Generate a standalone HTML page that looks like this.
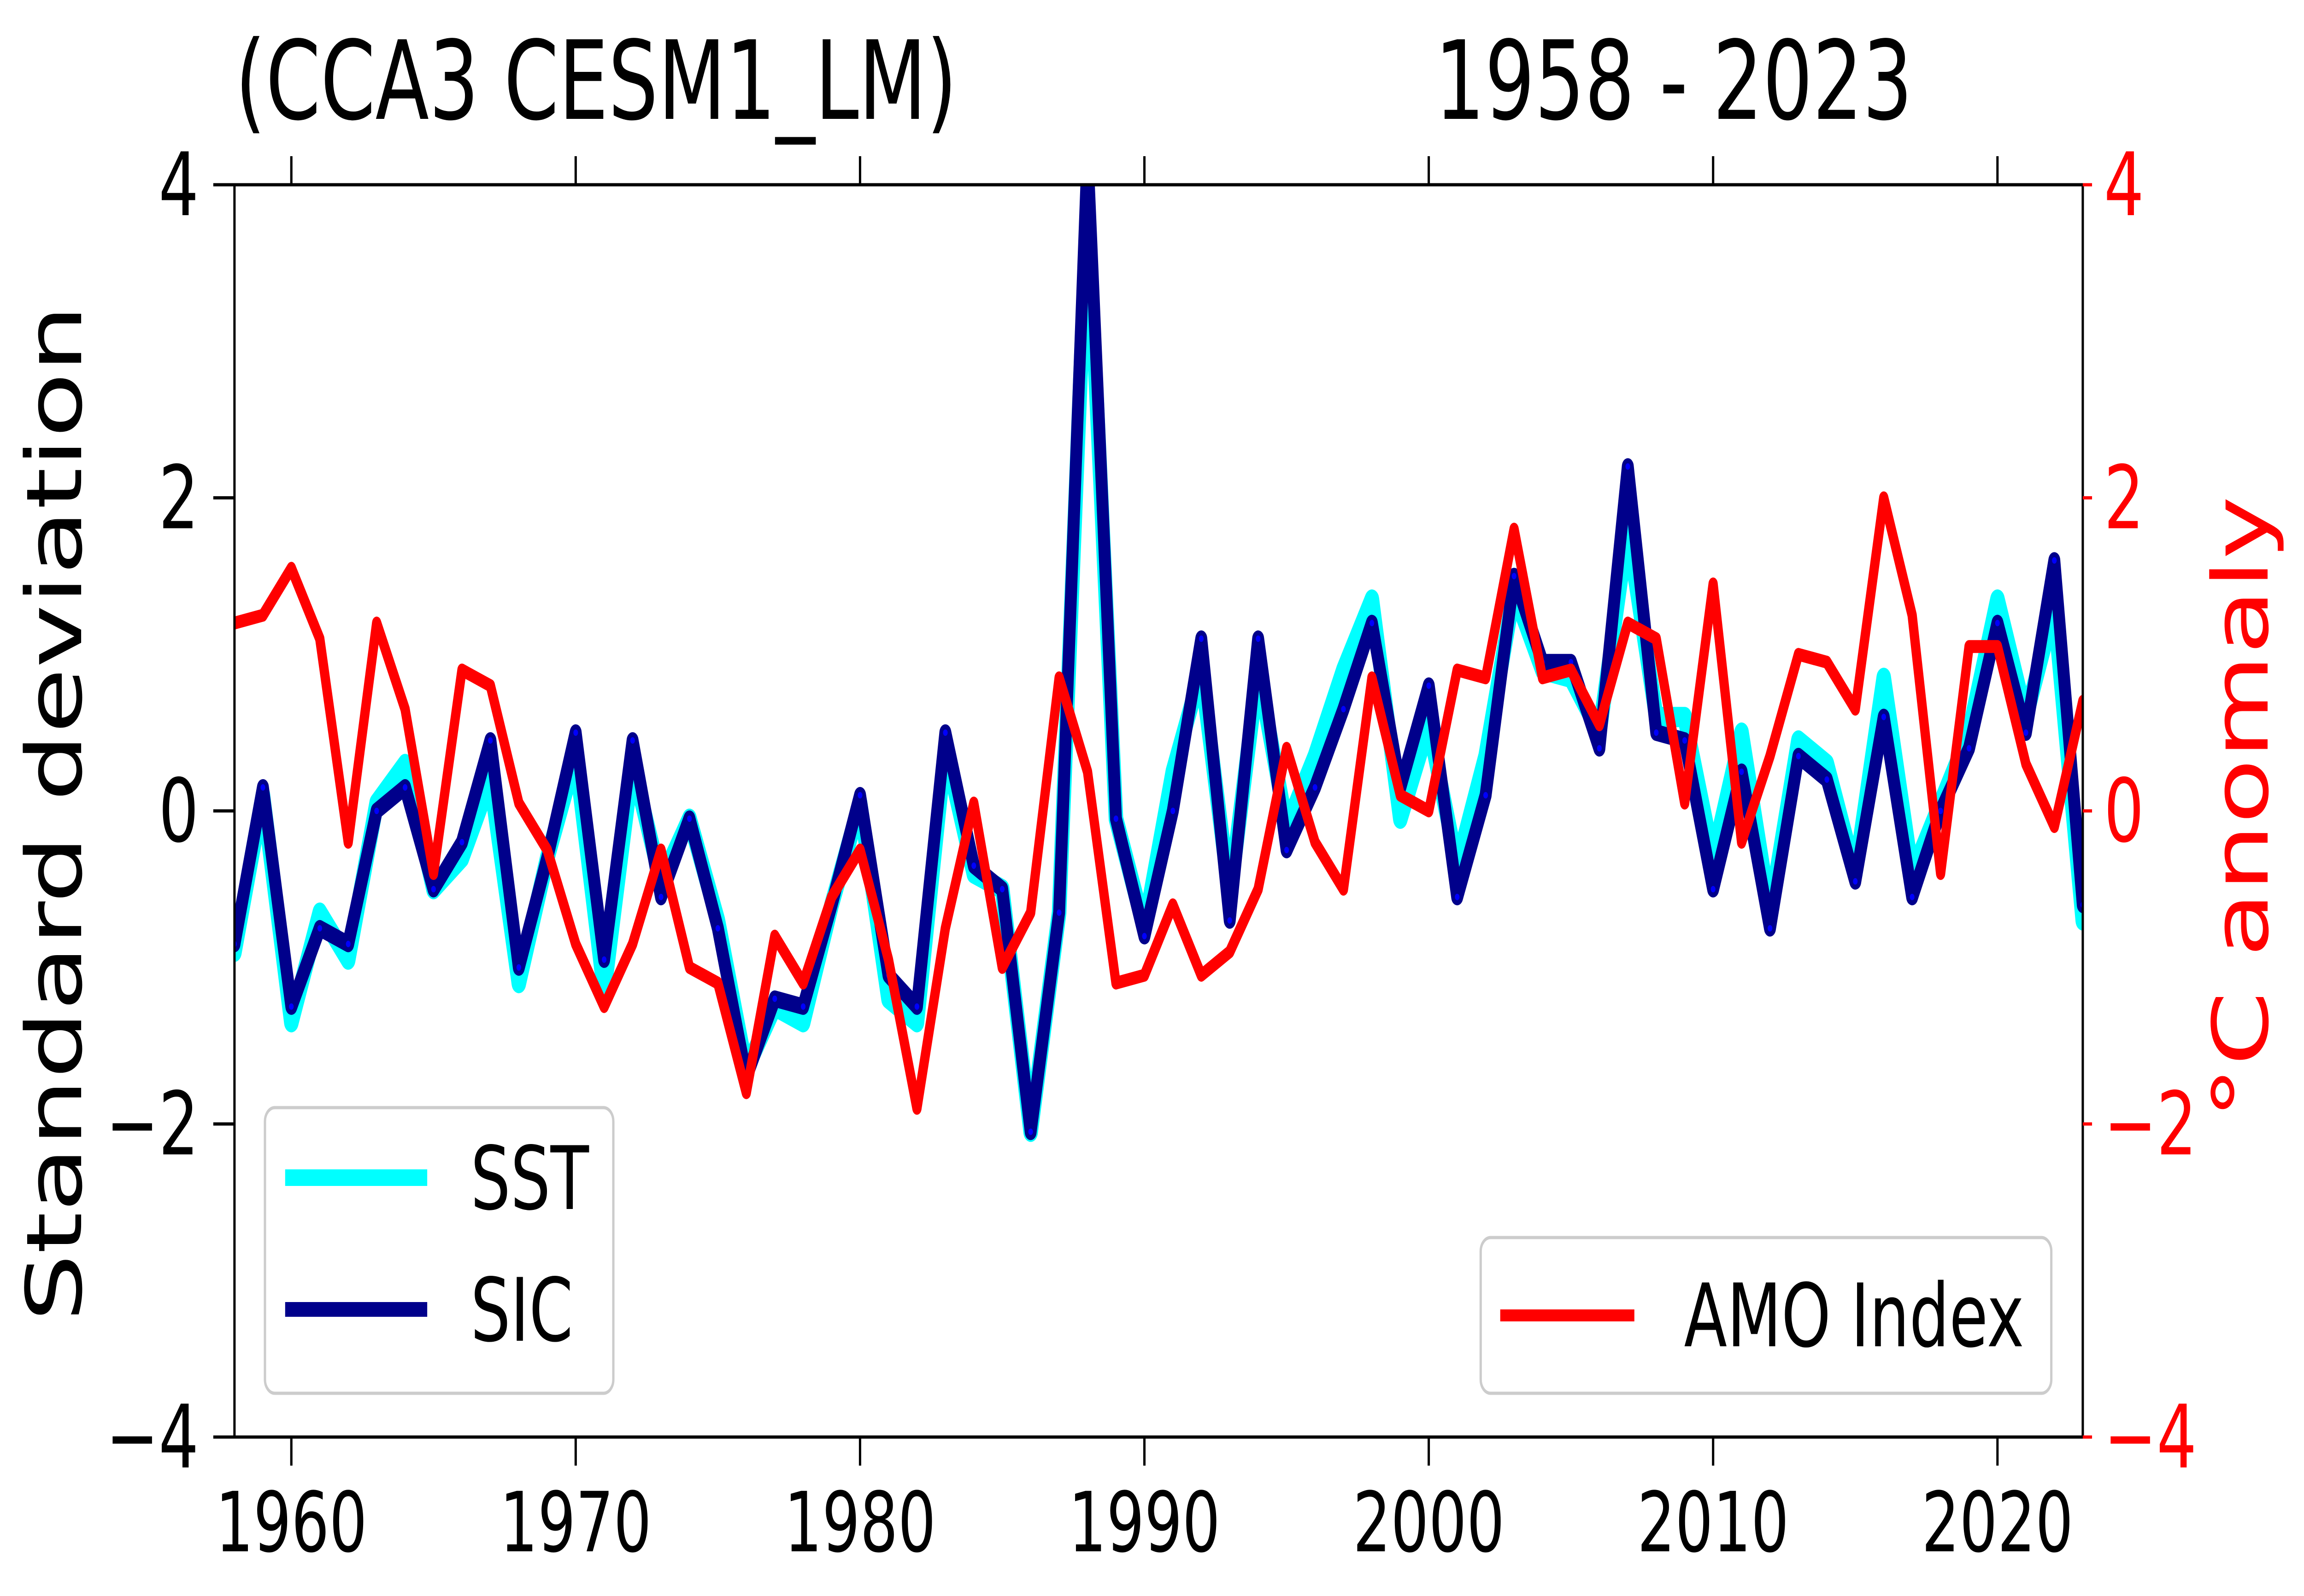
<!DOCTYPE html>
<html><head><meta charset="utf-8">
<style>
html,body{margin:0;padding:0;background:#fff;overflow:hidden;width:100%;height:100%;}
svg{display:block;width:100vw;height:100vh;font-family:"DejaVu Sans","Liberation Sans",sans-serif;}
</style></head>
<body>
<svg id="chart" viewBox="0 0 6957 3464" preserveAspectRatio="none" xmlns="http://www.w3.org/2000/svg">
<rect width="6957" height="3464" fill="#fff"/>
<defs><clipPath id="plotclip"><rect x="708" y="401" width="5581" height="2718"/></clipPath></defs>
<text x="710" y="258" font-size="237" fill="#000">(CCA3 CESM1_LM)</text>
<text x="5775" y="258" font-size="237" fill="#000" text-anchor="end">1958 - 2023</text>
<text transform="translate(245,1765) rotate(-90)" font-size="232" text-anchor="middle" fill="#000">Standard deviation</text>
<text transform="translate(6847,1753) rotate(-90)" font-size="232" text-anchor="middle" fill="#ff0000">°C anomaly</text>
<g id="series" clip-path="url(#plotclip)"></g>
<g id="axes"></g>
<g id="legends"></g>
</svg>
<script>
const years = [];
for (let y = 1958; y <= 2023; y++) years.push(y);
const sicValues = [-0.85,0.15,-1.25,-0.75,-0.85,0.0,0.15,-0.5,-0.2,0.45,-1.0,-0.3,0.5,-0.95,0.45,-0.55,-0.05,-0.75,-1.7,-1.2,-1.25,-0.6,0.1,-1.05,-1.25,0.5,-0.35,-0.5,-2.05,-0.65,4.2,-0.05,-0.8,0.0,1.1,-0.7,1.1,-0.25,0.15,0.65,1.2,0.15,0.8,-0.55,0.1,1.5,0.95,0.95,0.4,2.2,0.5,0.45,-0.5,0.25,-0.75,0.35,0.2,-0.45,0.6,-0.55,0.0,0.4,1.2,0.5,1.6,-0.6];
const sstValues = [-0.9,0.1,-1.35,-0.65,-0.95,0.05,0.3,-0.5,-0.3,0.2,-1.1,-0.3,0.35,-1.15,0.3,-0.45,-0.05,-0.7,-1.65,-1.25,-1.35,-0.6,0.05,-1.2,-1.35,0.4,-0.4,-0.5,-2.05,-0.65,3.9,-0.05,-0.75,0.25,0.9,-0.55,0.9,-0.1,0.35,0.9,1.35,-0.05,0.55,-0.35,0.35,1.4,0.9,0.85,0.5,1.8,0.6,0.6,-0.3,0.5,-0.65,0.45,0.3,-0.4,0.85,-0.4,0.05,0.5,1.35,0.6,1.3,-0.7];
const amoValues = [1.2,1.25,1.55,1.1,-0.2,1.2,0.65,-0.4,0.9,0.8,0.05,-0.25,-0.85,-1.25,-0.85,-0.25,-1.0,-1.1,-1.8,-0.8,-1.1,-0.55,-0.25,-0.95,-1.9,-0.75,0.05,-1.0,-0.65,0.85,0.25,-1.1,-1.05,-0.6,-1.05,-0.9,-0.5,0.4,-0.2,-0.5,0.85,0.1,0.0,0.9,0.85,1.8,0.85,0.9,0.55,1.2,1.1,0.05,1.45,-0.2,0.35,1.0,0.95,0.65,2.0,1.25,-0.4,1.05,1.05,0.3,-0.1,0.7];
const xTicks = [1960,1970,1980,1990,2000,2010,2020];
const xTickLabels = ["1960","1970","1980","1990","2000","2010","2020"];
const yTicks = [-4,-2,0,2,4];
const yTickLabels = ["\u22124","\u22122","0","2","4"];

const L=708,R=6289,T=401,B=3119;
const xs = v => L + (v-1958)/(2023-1958)*(R-L);
const ys = v => B - (v+4)/8*(B-T);
const NS="http://www.w3.org/2000/svg";
function mk(tag, attrs, parent){const e=document.createElementNS(NS,tag);for(const k in attrs)e.setAttribute(k,attrs[k]);parent.appendChild(e);return e;}
const series=document.getElementById('series'), axes=document.getElementById('axes'), leg=document.getElementById('legends');
function pts(vals){return vals.map((v,i)=>xs(years[i]).toFixed(1)+','+ys(v).toFixed(1)).join(' ');}

let p=mk('polyline',{points:pts(sstValues),fill:'none',stroke:'#00ffff','stroke-width':44,'stroke-linejoin':'round','stroke-linecap':'round'},series);


p=mk('polyline',{points:pts(sicValues),fill:'none',stroke:'#00008b','stroke-width':36,'stroke-linejoin':'round','stroke-linecap':'round'},series);


sicValues.forEach((v,i)=>{
  const c=mk('circle',{cx:xs(years[i]),cy:ys(v),r:7,fill:'#0000ff'},series);
  
  
});
p=mk('polyline',{points:pts(amoValues),fill:'none',stroke:'#ff0000','stroke-width':28,'stroke-linejoin':'round','stroke-linecap':'round'},series);



let s=mk('rect',{x:L,y:T,width:R-L,height:B-T,fill:'none',stroke:'#000','stroke-width':7},axes);



xTicks.forEach((t,i)=>{
  const x=xs(t);
  let a=mk('line',{x1:x,y1:T,x2:x,y2:T-62,stroke:'#000','stroke-width':7},axes);
  
  
  a=mk('line',{x1:x,y1:B,x2:x,y2:B+62,stroke:'#000','stroke-width':7},axes);
  
  
  const tx=mk('text',{x:x,y:3367,'font-size':180,'text-anchor':'middle',fill:'#000'},axes);
  tx.textContent=xTickLabels[i];
  
  
});
yTicks.forEach((t,i)=>{
  const y=ys(t);
  let a=mk('line',{x1:L-64,y1:y,x2:L,y2:y,stroke:'#000','stroke-width':7},axes);
  
  
  let tx=mk('text',{x:600,y:y+66,'font-size':190,'text-anchor':'end',fill:'#000'},axes);
  tx.textContent=yTickLabels[i];
  
  
  a=mk('line',{x1:R,y1:y,x2:R+28,y2:y,stroke:'#ff0000','stroke-width':7},axes);
  
  
  tx=mk('text',{x:6353,y:y+66,'font-size':190,'text-anchor':'start',fill:'#ff0000'},axes);
  tx.textContent=yTickLabels[i];
  
  
});

let b=mk('rect',{x:800,y:2404,width:1052,height:620,rx:30,fill:'#fff','fill-opacity':0.8,stroke:'#cccccc','stroke-width':7},leg);


let l=mk('line',{x1:861,y1:2556,x2:1290,y2:2556,stroke:'#00ffff','stroke-width':36},leg);


let t=mk('text',{x:1421,y:2624,'font-size':190,fill:'#000'},leg);
t.textContent='SST';


l=mk('line',{x1:861,y1:2842,x2:1290,y2:2842,stroke:'#00008b','stroke-width':32},leg);


t=mk('text',{x:1421,y:2910,'font-size':190,fill:'#000'},leg);
t.textContent='SIC';



b=mk('rect',{x:4471,y:2686,width:1723,height:338,rx:30,fill:'#fff','fill-opacity':0.8,stroke:'#cccccc','stroke-width':7},leg);


l=mk('line',{x1:4530,y1:2855,x2:4935,y2:2855,stroke:'#ff0000','stroke-width':26},leg);


t=mk('text',{x:5085,y:2922,'font-size':190,fill:'#000'},leg);
t.textContent='AMO Index';


</script>
</body></html>
